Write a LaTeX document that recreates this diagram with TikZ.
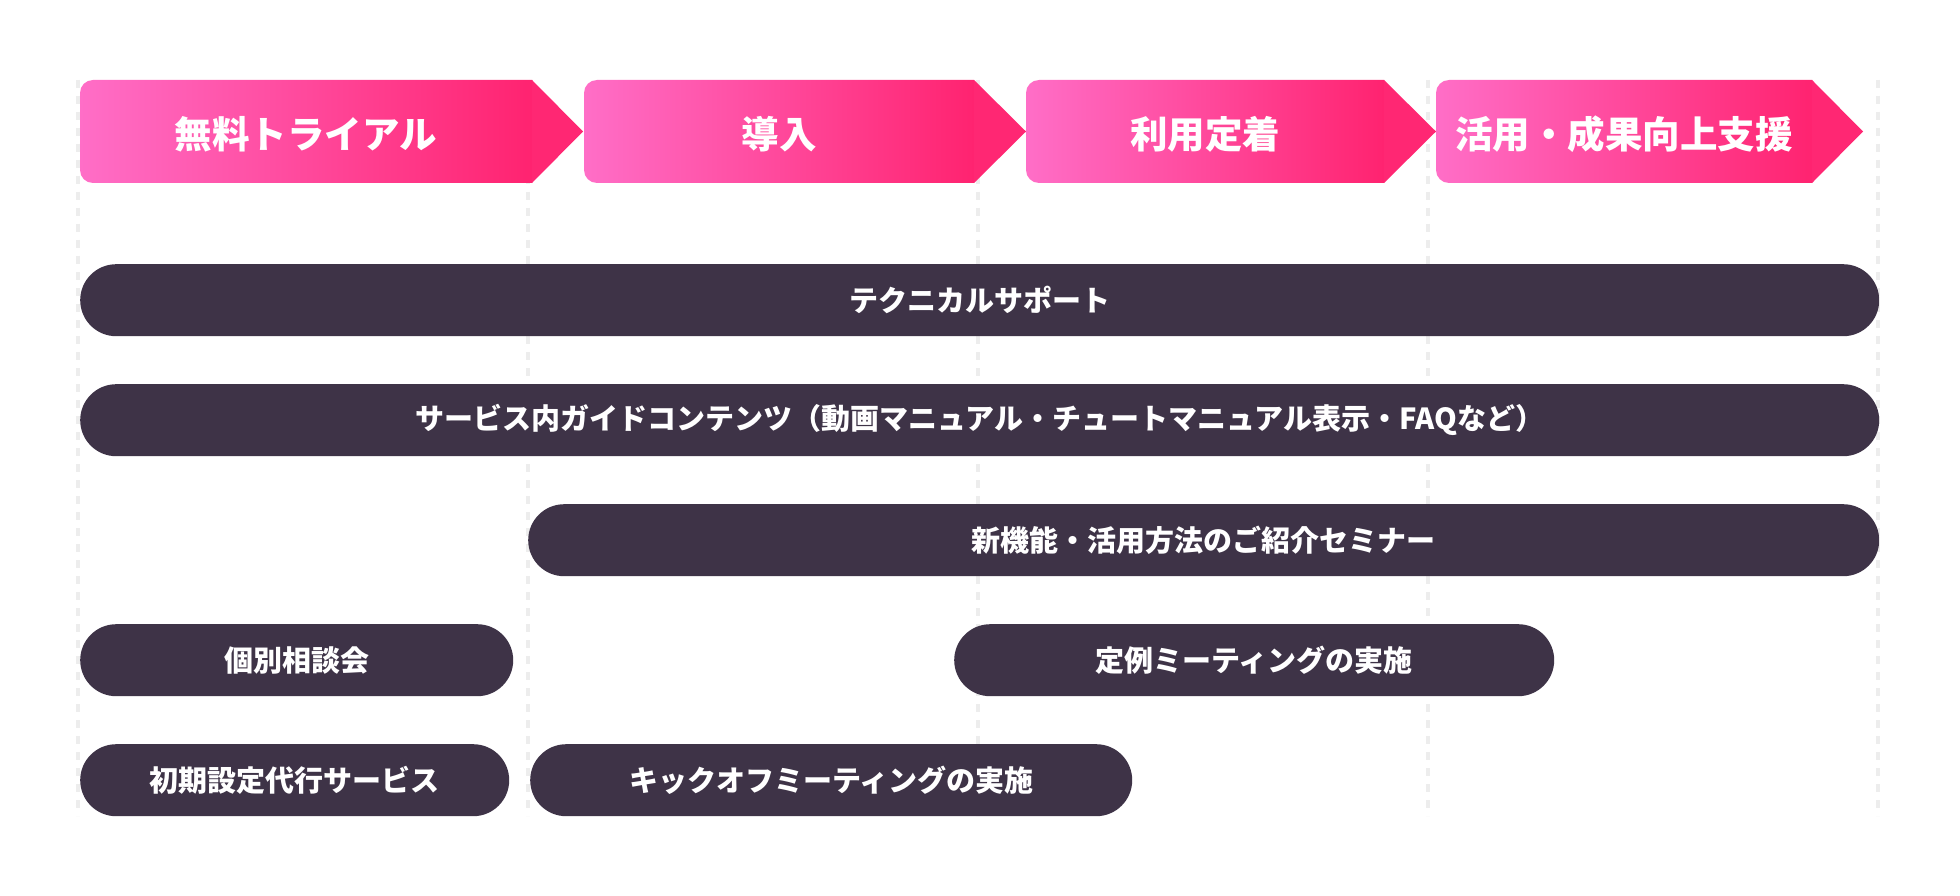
\documentclass[tikz,border=0pt]{standalone}
\usepackage{fontspec}
\setmainfont{Noto Sans CJK JP}
\definecolor{pinkL}{HTML}{FF6EC7}
\definecolor{pinkR}{HTML}{FF2370}
\definecolor{pinkT}{HTML}{FF2773}
\definecolor{barc}{HTML}{3E3347}
\definecolor{dashc}{HTML}{EDEDED}
\tikzset{
  bar/.style={fill=barc, rounded corners=36pt, minimum height=72pt, inner sep=0pt,
    text=white, font=\bfseries\fontsize{29}{35}\selectfont, anchor=north west},
  phase/.style={text=white, font=\bfseries\fontsize{37.5}{44}\selectfont},
  guide/.style={draw=dashc, line width=4pt, dash pattern=on 8pt off 8pt}
}
% #1 left, #2 body end, #3 tip, #4 name, #5 text
\newcommand\phasechev[5]{%
  \shade[left color=pinkL, right color=pinkR]
    ({#1+13},80) -- (#2,80) -- (#2,183) -- ({#1+13},183)
    .. controls ({#1+5.8},183) and (#1,177.2) .. (#1,170)
    -- (#1,93) .. controls (#1,85.8) and ({#1+5.8},80) .. ({#1+13},80) -- cycle;
  \fill[pinkT] (#2,80) -- (#3,131.5) -- (#2,183) -- cycle;
  \node[phase] (#4) at ({(#1+#2)/2},134) {#5};
}
\begin{document}
\begin{tikzpicture}[x=1pt,y=-1pt]
\useasboundingbox[fill=white] (0,0) rectangle (1960,896);
% guides
\foreach \gx in {78,528,978,1428,1878}
  \draw[guide] (\gx,80) -- (\gx,816);
% phases
\phasechev{80}{532}{583}{p1}{無料トライアル}
\phasechev{584}{974}{1026}{p2}{導入}
\phasechev{1026}{1384}{1436}{p3}{利用定着}
\phasechev{1436}{1812}{1863}{p4}{活用・成果向上支援}
% bars
\node[bar, minimum width=1799pt] (b1) at (80,264) {テクニカルサポート};
\node[bar, minimum width=1799pt] (b2) at (80,384) {サービス内ガイドコンテンツ（動画マニュアル・チュートマニュアル表示・FAQなど）};
\node[bar, minimum width=1351pt] (b3) at (528,504) {新機能・活用方法のご紹介セミナー};
\node[bar, minimum width=433pt] (b4) at (80,624) {個別相談会};
\node[bar, minimum width=600pt] (b5) at (954,624) {定例ミーティングの実施};
\node[bar, minimum width=429pt] (b6) at (80,744) {初期設定代行サービス};
\node[bar, minimum width=602pt] (b7) at (530,744) {キックオフミーティングの実施};
\end{tikzpicture}
\end{document}
